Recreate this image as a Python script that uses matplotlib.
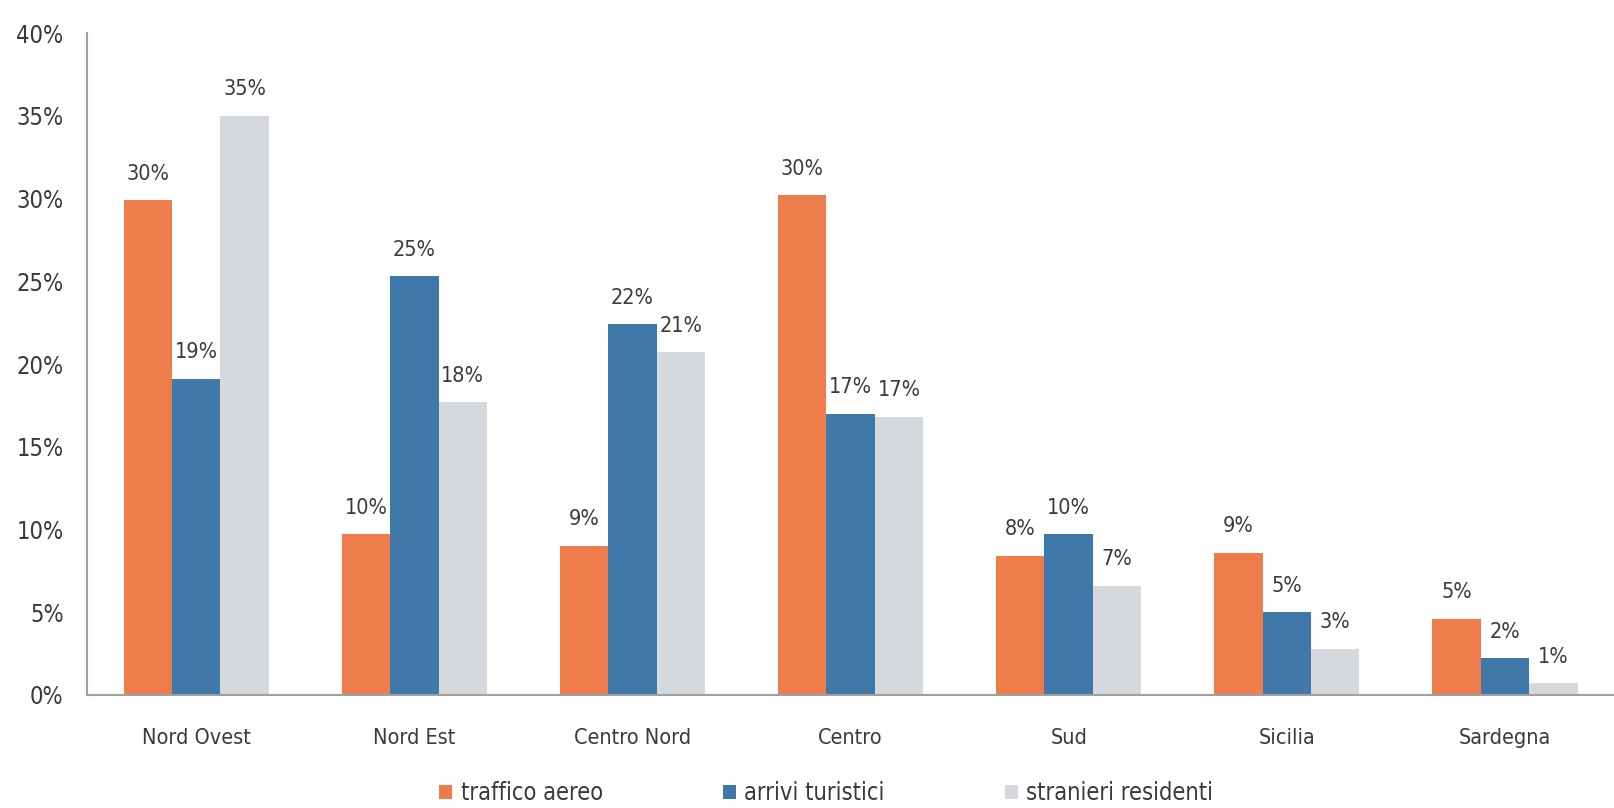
import matplotlib
matplotlib.use("Agg")
from matplotlib import pyplot as plt
import numpy as np

plt.rcParams['font.family'] = ['DejaVu Sans']
plt.rcParams['font.stretch'] = 'condensed'

# regions and the three series (bar heights in %)
regioni = ['Nord Ovest', 'Nord Est', 'Centro Nord', 'Centro', 'Sud', 'Sicilia', 'Sardegna']
traffico_aereo = [29.9, 9.7, 9.0, 30.2, 8.4, 8.6, 4.6]
arrivi_turistici = [19.1, 25.3, 22.4, 17.0, 9.7, 5.0, 2.2]
stranieri_residenti = [35.0, 17.7, 20.7, 16.8, 6.6, 2.8, 0.7]

# labels printed above the bars
lab_traffico = ['30%', '10%', '9%', '30%', '8%', '9%', '5%']
lab_arrivi = ['19%', '25%', '22%', '17%', '10%', '5%', '2%']
lab_stranieri = ['35%', '18%', '21%', '17%', '7%', '3%', '1%']

serie = [
    ('traffico aereo', traffico_aereo, lab_traffico, '#ee7d4b'),
    ('arrivi turistici', arrivi_turistici, lab_arrivi, '#3f78a9'),
    ('stranieri residenti', stranieri_residenti, lab_stranieri, '#d5d8dd'),
]

txt = '#3a3a3a'
fig = plt.figure(figsize=(16.14, 8.08), dpi=100)
ax = fig.add_axes([0.054, 0.14, 0.946, 0.819])

x = np.arange(len(regioni))
w = 0.222
for i, (nome, vals, labs, col) in enumerate(serie):
    pos = x + (i - 1) * w
    ax.bar(pos, vals, width=w, color=col, label=nome)
    for px, v, l in zip(pos, vals, labs):
        ax.text(px, v + 1.0, l, ha='center', va='bottom', fontsize=15.5, color=txt)

ax.set_xlim(-0.5, 6.5)
ax.set_ylim(0, 40)
ax.set_yticks(np.arange(0, 41, 5))
ax.set_yticklabels([f'{t}%' for t in range(0, 41, 5)])
ax.set_xticks(x)
ax.set_xticklabels(regioni)
ax.tick_params(axis='both', length=0, labelsize=15.5, labelcolor=txt)
ax.tick_params(axis='y', pad=17, labelsize=17)
ax.tick_params(axis='x', pad=24)
for s in ['top', 'right']:
    ax.spines[s].set_visible(False)
for s in ['left', 'bottom']:
    ax.spines[s].set_color('#a0a0a0')
    ax.spines[s].set_linewidth(1.5)

fig.legend(loc='center', bbox_to_anchor=(0.512, 0.018), ncol=3, frameon=False,
           fontsize=17, handlelength=0.55, handleheight=0.55, handletextpad=0.35,
           columnspacing=5.1, labelcolor=txt)

fig.savefig('out.png', dpi=100)
